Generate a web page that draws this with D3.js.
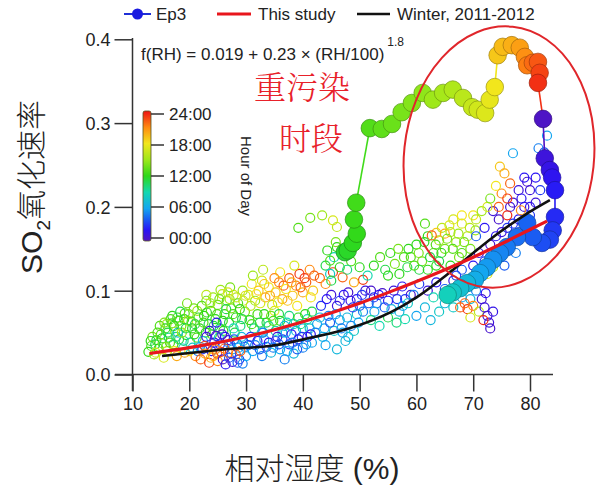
<!DOCTYPE html>
<html>
<head>
<meta charset="utf-8">
<script src="https://cdn.jsdelivr.net/npm/d3@7"></script>
<style>
  body { margin: 0; background: #fff; }
  text { font-family: "Liberation Sans", Arial, sans-serif; fill: #222; }
  .cjk { font-family: "Noto Sans CJK SC", sans-serif; font-weight: 300; }
  .note { font-family: "Noto Serif CJK SC", "Noto Sans CJK SC", serif; font-weight: 300; }
</style>
</head>
<body>
<svg id="chart" width="597" height="488"></svg>
<script>
var xTicks = [10, 20, 30, 40, 50, 60, 70, 80]
var yTicks = [0.0, 0.1, 0.2, 0.3, 0.4]
var hourTicks = [0, 6, 12, 18, 24]
var hourLabels = ["00:00", "06:00", "12:00", "18:00", "24:00"]

// open circles: [RH, rate, hour of day]
var obs = [
  [12.8,0.027,12],[13.3,0.034,13],[13.8,0.024,15],[14.2,0.041,11],[14.6,0.031,12],[15,0.048,13],[15.3,0.037,14],
  [15.8,0.055,12],[16.1,0.028,16],[16.4,0.044,10],[16.9,0.061,13],[17.2,0.036,12],[17.5,0.051,15],[17.9,0.068,12],
  [18.2,0.042,11],[18.6,0.058,14],[18.9,0.031,8],[19.2,0.073,13],[19.5,0.047,12],[19.8,0.064,16],[20.2,0.038,9],
  [20.5,0.055,12],[20.8,0.079,14],[21.1,0.022,21],[21.3,0.044,13],[21.6,0.068,12],[21.9,0.033,6],[13.5,0.045,14],
  [14.8,0.058,13],[16,0.06,15],[17,0.07,12],[18,0.05,7],[19,0.04,10],[20,0.028,18],[21,0.06,11],[15.5,0.02,17],
  [17.8,0.022,20],[19.6,0.085,14],[18.4,0.075,11],[16.7,0.066,13],
  [13.2,0.04,12],[14,0.036,11],[14.4,0.05,13],[15.2,0.043,12],[15.6,0.062,14],[16.2,0.05,11],[16.6,0.038,13],
  [17.3,0.058,12],[17.7,0.045,10],[18.1,0.064,13],[18.7,0.05,15],[19.1,0.066,12],[19.4,0.055,11],[19.9,0.072,14],
  [20.4,0.063,13],[20.9,0.048,12],[21.4,0.076,15],[21.8,0.055,12],[14.1,0.026,17],[15.9,0.033,14],[17.4,0.028,18],
  [19.2,0.026,20],[20.6,0.032,8],[21.5,0.028,5],
  [22.2,0.082,13],[22.6,0.07,12],[23,0.088,14],[23.4,0.06,11],[23.8,0.076,13],[24.2,0.092,15],[24.6,0.066,12],
  [25,0.083,14],[25.4,0.055,10],[25.8,0.096,16],[26.2,0.072,12],[26.6,0.088,13],[27,0.062,11],[27.4,0.079,14],
  [27.8,0.095,17],[28.2,0.068,12],[28.6,0.085,13],[29,0.058,10],[29.4,0.1,15],[29.8,0.075,14],[22.9,0.05,12],
  [24,0.048,13],[26,0.052,12],[28,0.05,11],[29.5,0.088,16],[25.5,0.101,15],[27.2,0.104,14],
  [22.5,0.062,13],[23.1,0.074,12],[23.7,0.085,15],[24.3,0.058,11],[24.9,0.072,13],[25.3,0.09,14],[25.9,0.064,12],
  [26.5,0.078,11],[27.1,0.09,15],[27.7,0.072,13],[28.3,0.092,16],[28.9,0.078,12],[29.3,0.066,11],[29.9,0.094,17],
  [23,0.095,16],[26.8,0.098,17],
  [22.4,0.04,7],[23.2,0.032,5],[24.4,0.038,2],[25.2,0.044,8],[26,0.035,4],[26.8,0.041,1],[27.6,0.03,6],
  [28.4,0.037,3],[29.2,0.045,7],[29.8,0.033,5],[23.6,0.052,1],[25.8,0.048,0.5],[27.8,0.055,9],[24.8,0.062,2],
  [22.3,0.03,3],[23,0.045,1],[23.9,0.028,2],[24.7,0.046,0.5],[25.4,0.036,3],[26.3,0.045,2],[27.2,0.036,5],
  [27.9,0.042,4],[28.7,0.032,6],[29.5,0.04,7],
  [22,0.018,22],[22.8,0.025,20],[23.5,0.014,23],[24.2,0.022,19],[25,0.016,21],[25.6,0.027,23],[26.4,0.012,2],
  [27,0.02,4],[27.6,0.015,1],[28.2,0.024,22],[28.8,0.018,3],[29.4,0.013,5],[30,0.022,6],[24.6,0.03,21],[26.2,0.031,22],
  [22.7,0.034,23],[23.8,0.02,20],[24.9,0.025,22],[25.9,0.018,0.5],[26.8,0.026,21],[27.4,0.025,3],[28.5,0.014,4],[29,0.028,22],
  [30.4,0.095,17],[31,0.108,18],[31.6,0.088,15],[32.2,0.1,19],[32.8,0.112,17],[33.4,0.092,20],[34,0.104,18],
  [34.6,0.083,16],[35.2,0.098,19],[35.8,0.11,21],[36.4,0.09,20],[37,0.102,18],[37.6,0.115,22],[38.2,0.094,19],
  [38.8,0.106,21],[39.4,0.12,23],[40,0.098,20],[40.6,0.11,22],[41.2,0.125,21],[41.8,0.1,19],[33,0.125,16],
  [36,0.122,18],[38.5,0.13,17],[31.2,0.118,15],[35,0.076,17],[39,0.082,18],
  [30.8,0.082,16],[31.8,0.096,18],[32.5,0.085,17],[33.2,0.108,19],[34.2,0.094,20],[35,0.115,21],[35.6,0.086,18],
  [36.6,0.106,22],[37.3,0.088,19],[38,0.11,20],[39.6,0.104,22],[40.3,0.115,23],[41.4,0.092,18],[42,0.118,22],
  [30.6,0.065,12],[31.4,0.055,10],[32,0.072,13],[32.8,0.05,8],[33.6,0.062,11],[34.4,0.07,14],[35.2,0.052,9],
  [36,0.064,12],[36.8,0.058,7],[37.6,0.07,10],[38.4,0.06,8],[39.2,0.068,12],[40,0.055,7],[40.8,0.066,9],[41.6,0.075,11],
  [31,0.06,13],[32.4,0.062,11],[33.2,0.072,12],[34,0.058,10],[34.8,0.064,13],[35.8,0.072,11],[36.4,0.05,8],
  [37.2,0.062,9],[38.8,0.052,7],[39.6,0.06,10],[40.4,0.072,12],[41.2,0.055,8],
  [30.4,0.035,4],[31.2,0.028,6],[32,0.04,2],[32.8,0.022,5],[33.6,0.033,3],[34.4,0.026,7],[35.2,0.04,4],
  [36,0.03,6],[36.8,0.018,5],[37.6,0.036,3],[38.4,0.025,7],[39.2,0.042,2],[40,0.032,5],[40.8,0.045,1],
  [41.6,0.038,6],[35.5,0.045,1],[38,0.048,2],
  [30.8,0.045,3],[31.6,0.035,5],[32.4,0.03,4],[33.2,0.042,6],[34,0.038,2],[34.8,0.032,5],[35.8,0.036,4],
  [36.4,0.042,3],[37.2,0.028,6],[38.2,0.038,5],[39,0.03,4],[39.8,0.045,3],[40.6,0.036,6],[41.4,0.048,2],[37,0.05,6],[33,0.05,5],
  [43,0.115,22],[45.3,0.122,23],[47,0.116,22],[50.6,0.113,23],[44,0.108,21],[49,0.11,20],
  [44,0.13,11],[45.5,0.14,9],[46.5,0.128,12],[47.5,0.145,10],[48.5,0.135,13],[46,0.152,12],[44.8,0.12,8],
  [45,0.112,11],[47.8,0.125,10],[50,0.128,12],[51.4,0.118,9],
  [39.2,0.175,13],[41.3,0.187,14],[43.4,0.19,15],[45.3,0.184,17],[46,0.176,16],[44.3,0.148,12],[44.8,0.136,13],[45.8,0.158,14],
  [45,0.095,1],[46.5,0.088,3],[48,0.098,0.5],[49.5,0.09,2],[51,0.1,1],[52.5,0.092,3],[54,0.097,0.5],
  [55,0.088,2],[50,0.082,4],[53,0.085,5],
  [43.2,0.082,3],[44.2,0.09,2],[46,0.082,1],[47.2,0.095,2],[48.4,0.088,1],[50.4,0.095,3],[52,0.1,0.5],
  [42.5,0.06,6],[43.5,0.045,7],[44.5,0.07,5],[45.5,0.052,8],[46.5,0.065,6],[47.5,0.04,7],[48.5,0.058,5],
  [49.5,0.072,8],[44,0.035,6],[46,0.03,7],
  [42.2,0.05,5],[43,0.068,7],[43.8,0.055,6],[44.8,0.062,4],[45.8,0.072,6],[46.8,0.055,5],[47.8,0.068,7],
  [48.8,0.08,3],[49.8,0.062,6],[50.6,0.075,5],[51.6,0.085,4],[52.6,0.075,6],[53.4,0.095,2],[54.4,0.08,4],
  [55.6,0.078,7],[56.6,0.09,3],[57.6,0.082,6],[47,0.05,6],[48,0.045,7],[49,0.052,8],
  [52,0.065,10],[53.5,0.058,9],[55,0.068,11],[56.5,0.062,10],[58,0.066,9],
  [52.5,0.13,12],[53.6,0.14,13],[54.5,0.125,11],[55.4,0.145,12],[56.2,0.132,14],[57,0.12,12],[57.8,0.14,13],
  [58.4,0.128,11],[55,0.118,12],[56.8,0.15,14],
  [59,0.14,13],[60,0.155,12],[61,0.135,14],[62,0.165,12],[63,0.145,13],[64,0.16,15],[65,0.15,14],
  [66,0.17,16],[67,0.158,15],[68,0.18,17],[69,0.165,16],[66.5,0.185,17],[70,0.19,18],[63.5,0.13,12],
  [61.5,0.18,13],[60.5,0.125,11],[67.5,0.14,14],[64.5,0.175,16],[63.5,0.169,19],[65,0.168,20],[62.7,0.166,22],
  [58.6,0.15,12],[59.6,0.13,13],[60.4,0.145,14],[61.4,0.158,12],[62.4,0.14,11],[63.4,0.155,13],[64.4,0.145,12],
  [65.4,0.162,14],[66.4,0.15,13],[67.4,0.168,15],[68.4,0.158,14],[69.4,0.175,16],[70.4,0.172,15],[65.8,0.178,17],
  [68,0.19,18],[62,0.125,12],[64,0.135,11],[66,0.13,12],[68,0.145,13],[69.5,0.15,14],
  [56,0.1,1],[57.5,0.105,2],[59,0.095,0.5],[60.5,0.108,3],[62,0.1,1],[63.5,0.11,2],[65,0.102,4],
  [66.5,0.112,1],[58,0.09,3],
  [67,0.118,3],[68,0.125,4],[69,0.11,2],[70.5,0.12,5],[71.5,0.125,1],
  [57,0.075,7],[58.5,0.085,8],[60,0.07,6],[61.5,0.08,7],[63,0.092,9],[64,0.075,8],[59.5,0.095,5],[62.5,0.065,7],
  [65,0.085,7],[66.5,0.08,8],[68,0.092,6],[69.5,0.09,7],[70.5,0.1,5],
  [67.7,0.08,22],[69,0.078,23],[70,0.082,21],[68.5,0.085,22],[69.5,0.068,17],[71,0.075,16],
  [71.5,0.09,0.5],[72,0.08,1],[72.5,0.07,0.5],[72.8,0.062,1],[73,0.055,0.5],[72.2,0.097,2],[73.5,0.075,1.5],[71.8,0.065,23.5],
  [70,0.13,2],[71,0.145,1],[72,0.135,3],[73,0.155,0.5],[74,0.165,2],[75,0.15,1],[76,0.175,3],
  [77,0.165,0.5],[78,0.185,2],[79,0.2,1],[80,0.19,3],[74.5,0.185,0.5],[76.5,0.2,1],[78.5,0.21,2],
  [75.5,0.13,4],[77.5,0.145,5],[80,0.22,1],[81,0.235,2],[79.5,0.23,0.5],[73.5,0.195,1],[72,0.175,2],[70.5,0.165,4],
  [73,0.14,2],[74,0.145,3],[75,0.17,1],[76,0.155,2],[77,0.18,3],[78,0.17,4],[79,0.18,0.5],[80,0.2,2],
  [81,0.205,1],[81.8,0.22,3],[77,0.205,0.5],[78,0.22,1],[79,0.235,2],[76,0.19,23.5],[74.5,0.2,22],[78.4,0.196,21],
  [75,0.216,21],[76.5,0.228,22],[74.7,0.248,19],[75.5,0.24,20],[76,0.21,23],[74,0.225,18],
  [81.5,0.27,5],[83,0.285,6],[82.5,0.265,4],[77,0.264,6],
  [70.5,0.185,16],[71.5,0.195,15],[72.5,0.2,17],[73,0.21,14],[72.5,0.12,17],[73.5,0.128,16]
]

// Ep3 episode, in time order
var ep3RH = [47.4,47.9,48.8,49.5,49.0,49.4,51.8,53.9,55.7,57.4,59.2,61.1,62.9,64.7,66.4,68.2,69.8,70.8,72.1,72.9,
  73.8,74.3,75.2,76.8,78.2,79.1,79.5,80.5,81.4,81.7,81.4,82.3,82.6,83.5,83.9,84.4,84.4,84.0,83.5,82.1,80.5,79.5,
  77.7,75.9,74.7,73.5,72.4,71.2,70.3,68.9,67.7,66.4,65.5]
var ep3Rate = [0.146,0.148,0.157,0.168,0.185,0.205,0.294,0.293,0.299,0.313,0.324,0.336,0.328,0.336,0.340,0.330,
  0.319,0.316,0.312,0.328,0.343,0.381,0.391,0.393,0.390,0.379,0.369,0.372,0.373,0.360,0.348,0.305,0.258,0.244,
  0.235,0.220,0.188,0.172,0.161,0.157,0.164,0.181,0.164,0.152,0.145,0.137,0.128,0.121,0.113,0.109,0.103,0.098,0.095]
var ep3Hour = [11.5,11.7,11.9,12.1,12.3,12.5,13.0,13.3,13.6,14.0,14.3,14.6,15.0,15.3,15.6,16.0,16.4,16.8,17.2,17.6,
  18.0,19.0,19.4,19.8,20.3,20.8,21.3,21.8,22.3,22.8,23.3,0.2,1.0,1.4,1.8,2.2,2.6,3.0,3.3,3.6,4.0,4.2,4.5,4.8,5.1,
  5.4,5.7,6.0,6.4,7.0,7.5,8.0,8.5]

// fitted curves
var fitRH = [13, 20, 30, 40, 50, 57, 60, 65, 70, 75, 80, 83]
var fitRate = [0.025, 0.032, 0.045, 0.063, 0.085, 0.103, 0.111, 0.125, 0.140, 0.156, 0.173, 0.183]
var winterRH = [15.2, 28, 34.2, 42.1, 46, 50, 57.1, 60, 65.9, 70, 74.7, 79, 83.5]
var winterRate = [0.022, 0.031, 0.034, 0.045, 0.051, 0.059, 0.08, 0.092, 0.122, 0.145, 0.17, 0.19, 0.208]

var svg = d3.select("#chart")

var x = d3.scaleLinear().domain([10, 80]).range([132.5, 530])
var y = d3.scaleLinear().domain([0, 0.4]).range([374.5, 39.3])

var hourColor = d3.scaleLinear()
    .domain([0, 2, 4, 6, 9, 12, 15, 18, 21, 24])
    .range(["#5214c0", "#2a14f5", "#1a5cf2", "#14a6f0", "#14d8b0", "#2ed81a", "#9ee81a", "#f2e61c", "#ff8a12", "#ee1414"])

// axes (igor style, ticks outside)
var xAxis = svg.append("g").attr("transform", "translate(0," + y(0) + ")")
    .call(d3.axisBottom(x).tickValues(xTicks).tickSize(17).tickPadding(6).tickFormat(d3.format("d")))
xAxis.select(".domain").attr("d", "M115,0H553")
var yAxis = svg.append("g").attr("transform", "translate(" + x(10) + ",0)")
    .call(d3.axisLeft(y).tickValues(yTicks).tickSize(18).tickPadding(4).tickFormat(d3.format(".1f")))
yAxis.select(".domain").attr("d", "M0,38V391")
svg.selectAll(".tick line, .domain").attr("stroke", "#333").attr("stroke-width", 1.5)
svg.selectAll(".tick text").style("font-size", "18px").attr("fill", "#222")
yAxis.selectAll(".tick text").attr("dy", "0.36em")

// open circles
svg.append("g").selectAll("circle").data(obs).enter().append("circle")
    .attr("cx", function(d) { return x(d[0]) })
    .attr("cy", function(d) { return y(d[1]) })
    .attr("r", 4.5)
    .style("fill", "none")
    .style("stroke", function(d) { return hourColor(d[2]) })
    .style("stroke-width", 1.2)

// Ep3 track: segments colored by start hour, then big markers
var ep3 = ep3RH.map(function(rh, i) { return { rh: rh, rate: ep3Rate[i], hour: ep3Hour[i] } })
svg.append("g").selectAll("line").data(ep3.slice(0, -1)).enter().append("line")
    .attr("x1", function(d) { return x(d.rh) })
    .attr("y1", function(d) { return y(d.rate) })
    .attr("x2", function(d, i) { return x(ep3[i + 1].rh) })
    .attr("y2", function(d, i) { return y(ep3[i + 1].rate) })
    .style("stroke", function(d) { return hourColor(d.hour) })
    .style("stroke-width", 1.6)
svg.append("g").selectAll("circle").data(ep3).enter().append("circle")
    .attr("cx", function(d) { return x(d.rh) })
    .attr("cy", function(d) { return y(d.rate) })
    .attr("r", 8.8)
    .style("fill", function(d) { return hourColor(d.hour) })
    .style("stroke", function(d) { return d3.color(hourColor(d.hour)).darker(1.2) })
    .style("stroke-width", 0.7)

// fit lines
var line = d3.line().curve(d3.curveMonotoneX)
svg.append("path")
    .attr("d", line(winterRH.map(function(v, i) { return [x(v), y(winterRate[i])] })))
    .style("fill", "none").style("stroke", "#111").style("stroke-width", 2.6)
svg.append("path")
    .attr("d", line(fitRH.map(function(v, i) { return [x(v), y(fitRate[i])] })))
    .style("fill", "none").style("stroke", "#e8161c").style("stroke-width", 3.2)

// red ellipse round the heavy pollution period
svg.append("ellipse")
    .attr("cx", 499).attr("cy", 157).attr("rx", 95).attr("ry", 131)
    .attr("transform", "rotate(6,499,157)")
    .style("fill", "none").style("stroke", "#e0262b").style("stroke-width", 2)

svg.append("text").attr("class", "note").attr("x", 302).attr("y", 99)
    .attr("text-anchor", "middle").style("font-size", "32px").style("fill", "#e8212a")
    .text("重污染")
svg.append("text").attr("class", "note").attr("x", 311).attr("y", 150)
    .attr("text-anchor", "middle").style("font-size", "32px").style("fill", "#e8212a")
    .text("时段")

// equation
var eq = svg.append("text").attr("x", 141).attr("y", 60).style("font-size", "17px")
eq.append("tspan").text("f(RH) = 0.019 + 0.23 × (RH/100)")
eq.append("tspan").attr("dx", 3).attr("dy", -14).style("font-size", "12px").text("1.8")

// colour bar
var defs = svg.append("defs")
var grad = defs.append("linearGradient").attr("id", "hourGrad")
    .attr("x1", 0).attr("y1", 1).attr("x2", 0).attr("y2", 0)
d3.range(0, 24.01, 1).forEach(function(h) {
    grad.append("stop").attr("offset", h / 24).attr("stop-color", hourColor(h))
})
var cb = d3.scaleLinear().domain([0, 24]).range([238, 114])
svg.append("rect").attr("x", 143).attr("y", cb(24) - 3).attr("width", 8).attr("height", cb(0) - cb(24) + 6)
    .attr("rx", 2)
    .style("fill", "url(#hourGrad)").style("stroke", "#552").style("stroke-width", 0.8)
svg.append("g").selectAll("line").data(hourTicks).enter().append("line")
    .attr("x1", 151).attr("x2", 164)
    .attr("y1", function(d) { return cb(d) }).attr("y2", function(d) { return cb(d) })
    .style("stroke", "#333").style("stroke-width", 1.5)
svg.append("g").selectAll("text").data(hourTicks).enter().append("text")
    .attr("x", 169).attr("y", function(d) { return cb(d) }).attr("dy", "0.36em")
    .style("font-size", "17px")
    .text(function(d, i) { return hourLabels[i] })
svg.append("text").attr("transform", "translate(241,176) rotate(90)")
    .attr("text-anchor", "middle").style("font-size", "15px")
    .text("Hour of Day")

// axis titles
var yt = svg.append("text").attr("transform", "translate(42,187) rotate(-90)")
    .attr("text-anchor", "middle").style("font-size", "30px")
yt.append("tspan").text("SO")
yt.append("tspan").attr("dy", 8).style("font-size", "19px").text("2")
yt.append("tspan").attr("dy", -8).attr("class", "cjk").text("氧化速率")
var xt = svg.append("text").attr("x", 312).attr("y", 479).attr("text-anchor", "middle").style("font-size", "30px")
xt.append("tspan").attr("class", "cjk").text("相对湿度")
xt.append("tspan").text("  (%)")

// legend
var lg = svg.append("g")
lg.append("line").attr("x1", 124).attr("x2", 151).attr("y1", 14).attr("y2", 14)
    .style("stroke", "#1f2fd6").style("stroke-width", 2)
lg.append("circle").attr("cx", 137.5).attr("cy", 14).attr("r", 5.5).style("fill", "#1a1ae0")
lg.append("text").attr("x", 156).attr("y", 20).style("font-size", "17px").text("Ep3")
lg.append("line").attr("x1", 217).attr("x2", 251).attr("y1", 14).attr("y2", 14)
    .style("stroke", "#e8161c").style("stroke-width", 3)
lg.append("text").attr("x", 258).attr("y", 20).style("font-size", "17px").text("This study")
lg.append("line").attr("x1", 357).attr("x2", 390).attr("y1", 14).attr("y2", 14)
    .style("stroke", "#111").style("stroke-width", 2.5)
lg.append("text").attr("x", 397).attr("y", 20).style("font-size", "17px").text("Winter, 2011-2012")
</script>
</body>
</html>
